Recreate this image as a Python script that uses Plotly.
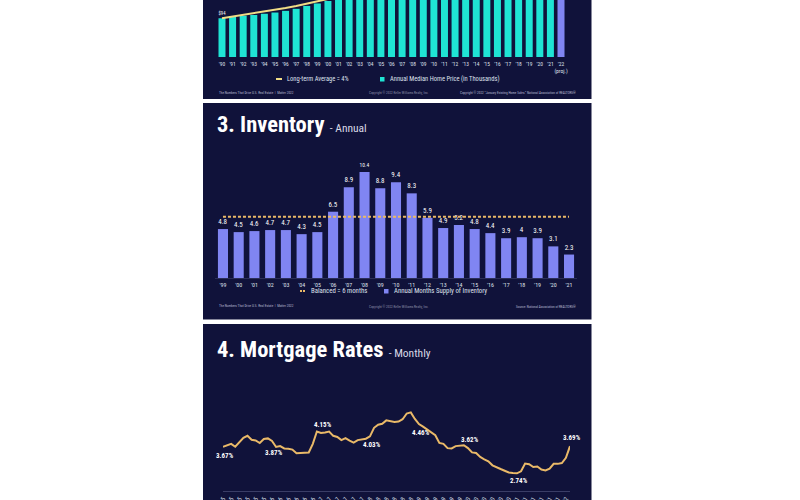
import plotly.graph_objects as go

# ---------------- data ----------------
price_years = ["'90", "'91", "'92", "'93", "'94", "'95", "'96", "'97", "'98", "'99", "'00",
               "'01", "'02", "'03", "'04", "'05", "'06", "'07", "'08", "'09", "'10", "'11",
               "'12", "'13", "'14", "'15", "'16", "'17", "'18", "'19", "'20", "'21", "'22"]
price_values = [94, 97, 100, 102, 105, 108, 112, 117, 124, 130, 136, 147, 156, 169, 184, 208,
                222, 217, 196, 172, 173, 166, 177, 197, 208, 223, 235, 248, 259, 272, 296, 347, 360]
price_trend = [94, 98, 102, 106, 110, 114, 119, 124, 129, 134, 139, 145, 150, 156, 163, 169,
               176, 183, 190, 198, 206, 214, 222, 231, 241, 250, 260, 271, 281, 293, 304, 317, 329]
price_labels = ["$94"] + [""] * 32

inv_years = ["'99", "'00", "'01", "'02", "'03", "'04", "'05", "'06", "'07", "'08", "'09", "'10",
             "'11", "'12", "'13", "'14", "'15", "'16", "'17", "'18", "'19", "'20", "'21"]
inv_values = [4.8, 4.5, 4.6, 4.7, 4.7, 4.3, 4.5, 6.5, 8.9, 10.4, 8.8, 9.4, 8.3, 5.9, 4.9, 5.2,
              4.8, 4.4, 3.9, 4, 3.9, 3.1, 2.3]
inv_balanced = [6] * 23

rate_months = [f"{m} {y}" for y in range(2015, 2023)
               for m in ["Jan", "Feb", "Mar", "Apr", "May", "Jun", "Jul", "Aug", "Sep", "Oct", "Nov", "Dec"]][:86]
rate_values = [3.67, 3.71, 3.77, 3.67, 3.84, 3.98, 4.05, 3.91, 3.89, 3.80, 3.94, 3.96,
               3.87, 3.66, 3.69, 3.61, 3.60, 3.57, 3.44, 3.44, 3.46, 3.47, 3.77, 4.20,
               4.15, 4.17, 4.20, 4.05, 4.01, 3.90, 3.97, 3.88, 3.81, 3.90, 3.92, 3.95,
               4.03, 4.33, 4.44, 4.47, 4.59, 4.57, 4.53, 4.55, 4.63, 4.83, 4.87, 4.64,
               4.46, 4.37, 4.27, 4.14, 4.07, 3.80, 3.77, 3.62, 3.61, 3.69, 3.70, 3.72,
               3.62, 3.47, 3.45, 3.31, 3.23, 3.16, 3.02, 2.94, 2.89, 2.83, 2.77, 2.75,
               2.74, 2.81, 3.08, 3.06, 2.96, 2.98, 2.87, 2.84, 2.90, 3.07, 3.07, 3.10,
               3.28, 3.69]
# (month, label, vertical offset in px: + above, - below)
rate_callouts = [("Jan 2015", "3.67%", -9), ("Jan 2016", "3.87%", -12), ("Jan 2017", "4.15%", 8),
                 ("Jan 2018", "4.03%", -9), ("Jan 2019", "4.46%", -9), ("Jan 2020", "3.62%", 8),
                 ("Jan 2021", "2.74%", -8), ("Feb 2022", "3.69%", 8)]

# ---------------- style ----------------
W, H = 800, 500
NAVY = "#10123a"
CYAN = "#1fe4d4"
PURPLE = "#8085f2"
GOLD = "#e9b968"
YELLOW = "#f0dc86"
TXT = "#dfe0ec"
NARROW = "Liberation Sans Narrow, Roboto Condensed, Arial Narrow, Liberation Sans, sans-serif"


def px(x):
    return x / W


def py(y):
    return 1 - y / H


fig = go.Figure()

# Panel 1 - home prices
fig.add_trace(go.Bar(x=price_years, y=price_values, text=price_labels, textposition="outside",
                     textfont=dict(size=6, color="white", family=NARROW), width=0.66,
                     marker=dict(color=[CYAN] * 32 + [PURPLE], line=dict(width=0)),
                     xaxis="x", yaxis="y", showlegend=False))
fig.add_trace(go.Scatter(x=price_years, y=price_trend, mode="lines",
                         line=dict(color=YELLOW, width=2), xaxis="x", yaxis="y", showlegend=False))

# Panel 2 - inventory
fig.add_trace(go.Bar(x=inv_years, y=inv_values, text=[f"{v:g}" for v in inv_values],
                     textposition="outside", cliponaxis=False, width=0.64,
                     textfont=dict(size=7, color="white", family=NARROW),
                     marker=dict(color=PURPLE, line=dict(width=0)),
                     xaxis="x2", yaxis="y2", showlegend=False))
fig.add_trace(go.Scatter(x=inv_years, y=inv_balanced, mode="lines",
                         line=dict(color=GOLD, width=2, dash="3px,2px"),
                         xaxis="x2", yaxis="y2", showlegend=False))

# Panel 3 - mortgage rates
fig.add_trace(go.Scatter(x=rate_months, y=rate_values, mode="lines",
                         line=dict(color=GOLD, width=2), xaxis="x3", yaxis="y3", showlegend=False))

# panel backgrounds
shapes = []
for y0, y1 in [(-5, 99), (103, 319.5), (324, 505)]:
    shapes.append(dict(type="rect", xref="paper", yref="paper", x0=px(203), x1=px(591.5),
                       y0=py(y1), y1=py(y0), fillcolor=NAVY, line=dict(width=0), layer="below"))

# legend symbols
shapes += [
    dict(type="line", xref="paper", yref="paper", x0=px(276), x1=px(282), y0=py(79), y1=py(79),
         line=dict(color=YELLOW, width=2)),
    dict(type="rect", xref="paper", yref="paper", x0=px(380), x1=px(384.5), y0=py(81.5), y1=py(77),
         fillcolor=CYAN, line=dict(width=0)),
    dict(type="line", xref="paper", yref="paper", x0=px(300), x1=px(306), y0=py(291), y1=py(291),
         line=dict(color=GOLD, width=2, dash="2px,1px")),
    dict(type="rect", xref="paper", yref="paper", x0=px(384), x1=px(388.5), y0=py(293.5), y1=py(289),
         fillcolor=PURPLE, line=dict(width=0)),
]

ann = []


def text(x, y, s, size, color=TXT, anchor="left", family=NARROW):
    ann.append(dict(x=px(x), y=py(y), xref="paper", yref="paper", text=s, showarrow=False,
                    xanchor=anchor, yanchor="middle", font=dict(size=size, color=color, family=family)))


# Panel 1 legend + footer
text(285, 79, "Long-term Average = 4%", 6.5)
text(388, 79, "Annual Median Home Price (in Thousands)", 6.5)
text(217, 93, "The Numbers That Drive U.S. Real Estate  |  Matter 2022", 3.4, "#b8bad0")
text(399, 93, "Copyright © 2022 Keller Williams Realty, Inc.", 3.4, "#8e90aa", "center")
text(578, 93, "Copyright © 2022 \u201cJanuary Existing Home Sales.\u201d National Association of REALTORS®",
     3.4, "#b8bad0", "right")

# Panel 2 title, legend, footer
text(215, 124, "<b>3. Inventory</b><span style='font-size:11.5px;color:#d8d9e6'>  - Annual</span>", 22.5, "white")
text(309, 291, "Balanced = 6 months", 6.8)
text(392, 291, "Annual Months Supply of Inventory", 6.8)
text(217, 306, "The Numbers That Drive U.S. Real Estate  |  Matter 2022", 3.4, "#b8bad0")
text(399, 306, "Copyright © 2022 Keller Williams Realty, Inc.", 3.4, "#8e90aa", "center")
text(578, 306, "Source: National Association of REALTORS®", 3.4, "#b8bad0", "right")

# Panel 3 title
text(215, 349, "<b>4. Mortgage Rates</b><span style='font-size:11.5px;color:#d8d9e6'>  - Monthly</span>", 22.5, "white")

# mortgage callouts
for m, lab, dy in rate_callouts:
    v = rate_values[rate_months.index(m)]
    ann.append(dict(x=m, y=v, xref="x3", yref="y3", text=f"<b>{lab}</b>", showarrow=False,
                    yshift=dy, xshift=2, font=dict(size=7, color="white", family=NARROW)))

axis_common = dict(showgrid=False, zeroline=False, fixedrange=True, automargin=False)
tickfont = dict(size=5.5, color=TXT, family=NARROW)

fig.update_layout(
    template="none",
    width=W, height=H, margin=dict(l=0, r=0, t=0, b=0, autoexpand=False),
    paper_bgcolor="white", plot_bgcolor="rgba(0,0,0,0)",
    showlegend=False,
    shapes=shapes, annotations=ann,
    xaxis=dict(type="category", domain=[px(216.7), px(566.3)], anchor="y", tickfont=tickfont, tickangle=0,
               ticktext=price_years[:-1] + ["'22<br>(proj.)"], tickvals=price_years,
               ticks="outside", ticklen=1, tickcolor="rgba(0,0,0,0)", showline=False, **axis_common),
    yaxis=dict(domain=[py(57), 1], range=[0, 138.4], visible=False, **axis_common),
    xaxis2=dict(type="category", domain=[px(215.1), px(576.9)], anchor="y2",
                tickfont=dict(size=6, color=TXT, family=NARROW),
                tickangle=0, ticks="outside", ticklen=1, tickcolor="rgba(0,0,0,0)",
                showline=True, linecolor="#2c2f58", linewidth=1, **axis_common),
    yaxis2=dict(domain=[py(278), py(160)], range=[0, 11.57], visible=False, **axis_common),
    xaxis3=dict(type="category", domain=[px(223), px(570)], anchor="y3", range=[0, 85],
                tickvals=rate_months[::2], ticktext=[m[:3] + "-" + m[-2:] for m in rate_months[::2]],
                tickangle=-60, tickfont=dict(size=6, color=TXT, family=NARROW),
                ticks="outside", ticklen=1, tickcolor="rgba(0,0,0,0)",
                showline=True, linecolor="#3a3d66", linewidth=1, **axis_common),
    yaxis3=dict(domain=[py(491), py(380)], range=[2.121, 6.002], visible=False, **axis_common),
)

fig.write_html("out.html")
